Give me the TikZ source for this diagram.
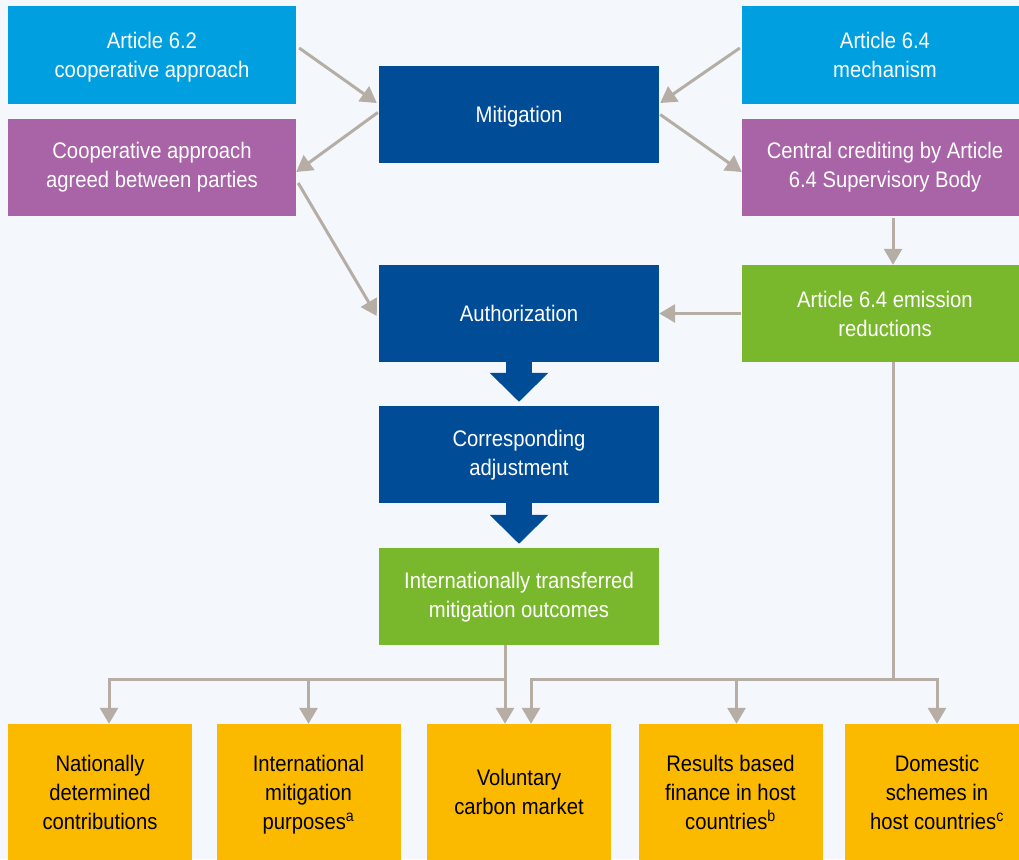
\documentclass[tikz,border=0pt]{standalone}
\usepackage{fontspec}
\setmainfont{Liberation Sans}[FakeStretch=0.9]
\usetikzlibrary{arrows.meta,calc}
\definecolor{cBg}{RGB}{244,248,253}
\definecolor{cCyan}{RGB}{0,159,223}
\definecolor{cBlue}{RGB}{0,76,151}
\definecolor{cPurple}{RGB}{168,100,166}
\definecolor{cGreen}{RGB}{121,184,44}
\definecolor{cOrange}{RGB}{251,186,0}
\definecolor{cGrey}{RGB}{182,173,165}
\newcommand{\fn}[1]{\smash{\textsuperscript{#1}}}

\begin{document}
\begin{tikzpicture}[x=1pt,y=-1pt,
   box/.style={minimum width=280pt,minimum height=97pt,inner sep=0pt,align=center,text=white,
     font=\fontsize{22.5}{29}\selectfont,text depth=-1pt},
   wide/.style={box,minimum width=288pt},
   outcome/.style={box,fill=cOrange,text=black,minimum width=184pt,minimum height=136pt},
   grey/.style={draw=cGrey,line width=3pt},
   arr/.style={grey,-{Triangle[width=18pt,length=16pt]}},
   blk/.style={draw=cBlue,line width=26pt,-{Triangle[width=57pt,length=29pt]}}]
  \useasboundingbox (0,0) rectangle (1019,859);
  \fill[cBg] (0,0) rectangle (1019,859);
  % top rows
  \node[wide,fill=cCyan] (art62) at (152,55) {Article 6.2\\cooperative approach};
  \node[wide,fill=cCyan,minimum width=286pt] (art64) at (885,55) {Article 6.4\\mechanism};
  \node[box,fill=cBlue] (mitig) at (519,114.5) {Mitigation};
  \node[wide,fill=cPurple,text depth=5pt] (coop) at (152,167.5) {Cooperative approach\\agreed between parties};
  \node[wide,fill=cPurple,minimum width=286pt,text depth=5pt] (central) at (885,167.5) {Central crediting by Article\\6.4 Supervisory Body};
  % middle column
  \node[box,fill=cBlue] (auth) at (519,313.5) {Authorization};
  \node[wide,fill=cGreen,minimum width=286pt] (er64) at (885,313.5) {Article 6.4 emission\\reductions};
  \node[box,fill=cBlue,text depth=3pt] (corr) at (519,454.5) {Corresponding\\adjustment};
  \node[box,fill=cGreen,text depth=4pt] (itmo) at (519,596.5) {Internationally transferred\\mitigation outcomes};
  % uses
  \node[outcome] (ndc) at (100,792) {Nationally\\determined\\contributions};
  \node[outcome] (imp) at (308.5,792) {International\\mitigation\\purposes\fn{a}};
  \node[outcome] (vcm) at (519,792) {Voluntary\\carbon market};
  \node[outcome] (rbf) at (730.5,792) {Results based\\finance in host\\countries\fn{b}};
  \node[outcome] (dom) at (937,792) {Domestic\\schemes in\\host countries\fn{c}};
  % connectors
  \draw[arr] ([xshift=3pt,yshift=7pt]art62.east) -- ([xshift=-2pt,yshift=11.5pt]mitig.west);
  \draw[arr] ([xshift=-1pt,yshift=2pt]mitig.west) -- ([yshift=-4.5pt]coop.east);
  \draw[arr] ([xshift=-2pt,yshift=7pt]art64.west) -- ([xshift=1pt,yshift=11.5pt]mitig.east);
  \draw[arr] ([xshift=1pt]mitig.east) -- ([yshift=-4.5pt]central.west);
  \draw[arr] ([xshift=2pt,yshift=-15.5pt]coop.east) -- ([xshift=-2pt,yshift=-2.5pt]auth.west);
  \draw[arr] ([xshift=8pt,yshift=-2pt]central.south) -- ([xshift=8pt]er64.north);
  \draw[arr] ([xshift=-1pt]er64.west) -- (auth.east);
  \draw[blk] (auth.south) -- ([yshift=4pt]corr.north);
  \draw[blk] (corr.south) -- ([yshift=4pt]itmo.north);
  % branches
  \coordinate (jl) at (505,679.5);
  \coordinate (jr) at (893,679.5);
  \draw[arr] ([xshift=-14pt]itmo.south) -- ([xshift=-14pt]vcm.north);
  \draw[arr] (jl) -| ([xshift=9pt]ndc.north);
  \draw[arr] (jl) -| (imp.north);
  \draw[grey] ([xshift=8pt]er64.south) -- (jr);
  \draw[arr] (jr) -| ([xshift=12pt]vcm.north);
  \draw[arr] (jr) -| ([xshift=6pt]rbf.north);
  \draw[arr] (jr) -| (dom.north);
\end{tikzpicture}
\end{document}
